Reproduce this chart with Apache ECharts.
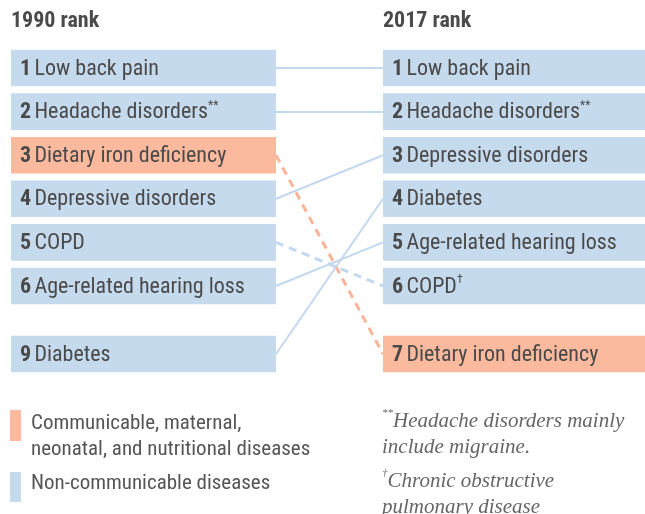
<!DOCTYPE html>
<html><head><meta charset="utf-8">
<script src="https://cdn.jsdelivr.net/npm/echarts@6/dist/echarts.min.js"></script>
<style>html,body{margin:0;padding:0;background:#fff}#c{width:645px;height:514px}</style>
</head><body><div id="c"></div>
<script>
// ---- data ----
const columnTitles = ['1990 rank', '2017 rank'];
const causes = ['Low back pain', 'Headache disorders', 'Dietary iron deficiency', 'Depressive disorders', 'COPD', 'Age-related hearing loss', 'Diabetes'];
const rank1990 = [1, 2, 3, 4, 5, 6, 9];
const rank2017 = [1, 2, 7, 3, 6, 5, 4];
const causeGroup = ['ncd', 'ncd', 'cmnn', 'ncd', 'ncd', 'ncd', 'ncd'];
const marks1990 = ['', '**', '', '', '', '', ''];
const marks2017 = ['', '**', '', '', '\u2020', '', ''];
const dashedLink = [false, false, true, false, true, false, false];
const legendLabels = ['Communicable, maternal,\nneonatal, and nutritional diseases', 'Non-communicable diseases'];
const footnotes = ['Headache disorders mainly\ninclude migraine.', 'Chronic obstructive\npulmonary disease'];
const footnoteMarks = ['**', '\u2020'];

// ---- styling ----
const FILL = { ncd: '#c6daee', cmnn: '#fbb99e' };
const LINE = { ncd: '#c3d8ef', cmnn: '#fbb497' };
const TEXT = '#4a4a4a';
const FONT = "'Liberation Sans Narrow', 'Roboto Condensed', 'Open Sans', Roboto, sans-serif";
const COLS = [{ x0: 11, x1: 276 }, { x0: 383, x1: 645 }];

function slotOf(ranks, r) {
  const sorted = ranks.slice().sort((a, b) => a - b);
  const i = sorted.indexOf(r);
  return i < 6 ? i + 1 : i + 1.56;
}

const boxes = [];
causes.forEach((name, i) => {
  boxes.push({ col: 0, rank: rank1990[i], name, mark: marks1990[i], grp: causeGroup[i], slot: slotOf(rank1990, rank1990[i]) });
  boxes.push({ col: 1, rank: rank2017[i], name, mark: marks2017[i], grp: causeGroup[i], slot: slotOf(rank2017, rank2017[i]) });
});

const links = causes.map((name, i) => ({
  coords: [[COLS[0].x1, slotOf(rank1990, rank1990[i])], [COLS[1].x0, slotOf(rank2017, rank2017[i])]],
  lineStyle: {
    color: LINE[causeGroup[i]],
    width: dashedLink[i] ? 3 : 2,
    type: dashedLink[i] ? [8, 6] : 'solid',
    opacity: 1
  }
}));

const chart = echarts.init(document.getElementById('c'), null, { renderer: 'canvas' });
chart.setOption({
  animation: false,
  grid: { left: 0, right: 0, top: 24.4, height: 436 },
  xAxis: { type: 'value', min: 0, max: 645, show: false },
  yAxis: { type: 'value', min: 0, max: 10, inverse: true, show: false },
  title: columnTitles.map((t, k) => ({
    text: t, left: COLS[k].x0, top: 10, padding: 0,
    textStyle: { fontFamily: FONT, fontWeight: 'bold', fontSize: 22, color: TEXT }
  })),
  series: [
    {
      type: 'lines', coordinateSystem: 'cartesian2d', z: 1, silent: true,
      data: links
    },
    {
      type: 'custom', z: 2, silent: true,
      data: boxes.map(b => [COLS[b.col].x0, b.slot]),
      renderItem: function (params, api) {
        const b = boxes[params.dataIndex];
        const c = COLS[b.col];
        const p0 = api.coord([c.x0, b.slot]);
        const p1 = api.coord([c.x1, b.slot]);
        const h = api.size([0, 0.84])[1];
        return {
          type: 'group',
          children: [
            { type: 'rect', shape: { x: p0[0], y: p0[1] - h / 2, width: p1[0] - p0[0], height: h }, style: { fill: FILL[b.grp] } },
            {
              type: 'text', x: p0[0] + 9, y: p0[1] + 1,
              style: {
                text: '{n|' + b.rank + '} {t|' + b.name + '}' + (b.mark ? '{s|' + b.mark + '}' : ''),
                verticalAlign: 'middle', align: 'left',
                rich: {
                  n: { fontFamily: FONT, fontWeight: 'bold', fontSize: 22, fill: TEXT, lineHeight: 26 },
                  t: { fontFamily: FONT, fontSize: 22, fill: TEXT, lineHeight: 26 },
                  s: { fontFamily: FONT, fontSize: 12, fill: TEXT, verticalAlign: 'top', lineHeight: 26 }
                }
              }
            }
          ]
        };
      }
    }
  ],
  graphic: [
    { type: 'rect', left: 10, top: 410, shape: { width: 11, height: 31 }, style: { fill: FILL.cmnn } },
    { type: 'rect', left: 10, top: 472, shape: { width: 11, height: 30 }, style: { fill: FILL.ncd } },
    { type: 'text', left: 31, top: 411, style: { text: legendLabels[0], font: '21px ' + FONT, fill: '#555', lineHeight: 26 } },
    { type: 'text', left: 31, top: 471, style: { text: legendLabels[1], font: '21px ' + FONT, fill: '#555', lineHeight: 26 } },
    { type: 'text', left: 382, top: 408, style: {
      text: '{m|' + footnoteMarks[0] + '}{t|' + footnotes[0].split('\n')[0] + '}\n{t|' + footnotes[0].split('\n')[1] + '}',
      rich: { m: { font: 'italic 11px "Liberation Serif"', fill: '#666', verticalAlign: 'top', lineHeight: 26 }, t: { font: 'italic 21px "Liberation Serif"', fill: '#666', lineHeight: 26 } } } },
    { type: 'text', left: 382, top: 468, style: {
      text: '{m|' + footnoteMarks[1] + '}{t|' + footnotes[1].split('\n')[0] + '}\n{t|' + footnotes[1].split('\n')[1] + '}',
      rich: { m: { font: 'italic 11px "Liberation Serif"', fill: '#666', verticalAlign: 'top', lineHeight: 26 }, t: { font: 'italic 21px "Liberation Serif"', fill: '#666', lineHeight: 26 } } } }
  ]
});
</script></body></html>
